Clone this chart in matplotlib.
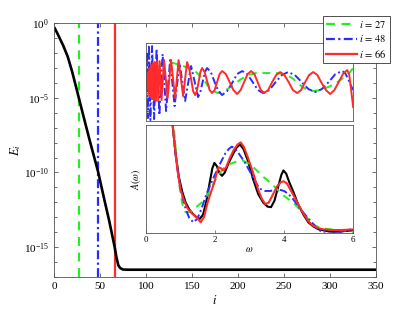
import matplotlib
matplotlib.use("Agg")
import matplotlib.pyplot as plt
import numpy as np

plt.rcParams['font.family'] = 'serif'
plt.rcParams['font.serif'] = ['Liberation Serif', 'DejaVu Serif']
plt.rcParams['mathtext.fontset'] = 'stix'

# ---------------- main curve ----------------
i_vals = [1, 5, 10, 15, 20, 27, 33, 39, 48, 55, 60, 66, 68, 70, 72, 75, 80,
          100, 150, 200, 250, 300, 350]
E_vals = [4.4e-1, 1.4e-1, 3.2e-2, 5.6e-3, 5.0e-4, 1.0e-5, 3.5e-7, 1.3e-8,
          1.1e-10, 1.3e-12, 6.0e-14, 1.0e-15, 2.0e-16, 6.0e-17, 4.0e-17,
          3.2e-17, 3.1e-17, 3.1e-17, 3.1e-17, 3.1e-17, 3.1e-17, 3.1e-17, 3.1e-17]
cut_i = [27, 48, 66]
labels = [r'$i\,=\,27$', r'$i\,=\,48$', r'$i\,=\,66$']
colors = ['#22ee22', '#2b2bff', '#ff2b2b']
styles = [(0, (4, 3)), (0, (4, 1.5, 1, 1.5)), '-']

# ---------------- inset 1 (signals) ----------------
t_red = [0, 0.7, 1.4, 2.1, 2.8, 3.5, 4.3, 5.1, 6.0, 6.9, 7.8, 8.8, 9.8, 11, 12.2,
         13.5, 15.5, 18, 21.5, 25, 29, 32.5, 37, 41, 43, 45, 47, 49, 50.75, 52.5,
         54.25, 56, 58.5, 61, 63.5, 66, 68.5, 71, 73.5, 76, 79.75, 83.5, 87.25, 91,
         94.5, 98, 101.5, 105, 108.25, 111.5, 114.75, 118, 122, 126, 130, 134,
         138.25, 142.5, 146.75, 151, 155, 159, 163, 167, 171.25, 175.5, 179.75,
         184, 188.25, 192.5, 196.75, 201, 203, 205, 207]
s_red = [0, 5, -7, 10, -12, 14, -15, 17, -17, 19, -18, 20, -19, 21, -19,
         21, -18, 22, -16, 22, -16, 22, -14, 20, 14, 3, -9, -13, -9, 0,
         10, 14, 10, 1, -8, -11, -8, 0, 8, 11, 8, 0, -8, -12,
         -8, 0, 8, 11, 8, 0, -8, -11, -8, 0, 7, 10,
         7, 0, -8, -11, -8, 0, 7, 10, 7, -1, -8,
         -12, -8, 0, 8, 12, 8, -8, -25]

t_blue = [0, 0.9, 1.8, 2.9, 4.3, 6.0, 8.0, 10.5, 13.3, 16.5, 20, 24, 28.5, 33.5,
          39, 45, 52, 54.25, 56.5, 58.75, 61, 64.75, 68.5, 72.25, 76, 81, 86, 91,
          96, 101.25, 106.5, 111.75, 117, 123.25, 129.5, 135.75, 142, 148.75,
          155.5, 162.25, 169, 175.75, 182.5, 189.25, 196, 199, 202, 205, 207]
s_blue = [0, 30, -36, 37, -38, 36, -37, 33, -33, 28, -29, 22, -24, 19,
          -19, 16, -15, -10, 0, 10, 14, 10, 0, -9, -13, -9, -1, 8,
          11, 8, 0, -8, -11, -8, 0, 7, 10, 7,
          0, -7, -10, -7, 0, 8, 11, 9, 3, -4, -8]

t_green = [0, 1, 2, 3.2, 4.5, 6, 8, 10.5, 14, 20, 27, 35, 42, 50, 57, 65, 72,
           80, 88, 95, 102, 110, 120, 130, 139, 146, 154, 161, 167, 174, 182,
           190, 197, 203, 207]
s_green = [0, -10, 12, -10, 14, -8, 16, -4, 18, 20, 19, 17, 14, 10, 3, -8, -11,
           -8, -2, 3, 7, 9, 9, 9, 8, 4, -3, -8, -9, -8, -5,
           -1, 4, 9, 14]

# ---------------- inset 2 (spectral functions) ----------------
w_black = [0.70, 0.77, 0.85, 0.95, 1.05, 1.15, 1.25, 1.35, 1.45, 1.55, 1.65, 1.75,
           1.85, 1.92, 1.98, 2.05, 2.12, 2.20, 2.28, 2.38, 2.50, 2.62, 2.72, 2.82,
           2.95, 3.10, 3.25, 3.40, 3.52, 3.62, 3.72, 3.82, 3.92, 3.98, 4.06, 4.15,
           4.27, 4.40, 4.56, 4.70, 4.85, 5.00, 5.14, 5.30, 5.45, 5.62, 5.80, 6.0]
A_black = [1.2, 1.0, 0.75, 0.52, 0.38, 0.28, 0.22, 0.18, 0.15, 0.13, 0.17, 0.30,
           0.48, 0.60, 0.65, 0.62, 0.56, 0.53, 0.56, 0.64, 0.72, 0.79, 0.82, 0.78,
           0.67, 0.50, 0.36, 0.28, 0.245, 0.24, 0.30, 0.42, 0.54, 0.58, 0.55, 0.47,
           0.38, 0.27, 0.17, 0.10, 0.06, 0.035, 0.025, 0.015, 0.012, 0.015, 0.02, 0.025]

w_red = [0.70, 0.77, 0.84, 0.91, 1.0, 1.1, 1.2, 1.3, 1.39, 1.48, 1.58, 1.68, 1.78,
         1.88, 1.97, 2.05, 2.10, 2.17, 2.24, 2.32, 2.42, 2.54, 2.65, 2.74, 2.83,
         2.95, 3.11, 3.25, 3.35, 3.45, 3.55, 3.68, 3.79, 3.90, 3.98, 4.08, 4.27,
         4.42, 4.56, 4.70, 4.85, 5.0, 5.14, 5.3, 5.45, 5.62, 5.8, 6.0]
A_red = [1.2, 1.0, 0.78, 0.58, 0.40, 0.30, 0.23, 0.19, 0.165, 0.14, 0.10, 0.15, 0.28,
         0.38, 0.46, 0.56, 0.61, 0.60, 0.58, 0.61, 0.69, 0.77, 0.82, 0.84, 0.80,
         0.70, 0.55, 0.40, 0.32, 0.27, 0.28, 0.36, 0.43, 0.47, 0.48, 0.46, 0.35,
         0.26, 0.18, 0.11, 0.065, 0.045, 0.034, 0.03, 0.028, 0.028, 0.03, 0.034]

w_blue = [0.70, 0.77, 0.85, 0.95, 1.05, 1.15, 1.25, 1.37, 1.48, 1.6, 1.76, 1.95,
          2.14, 2.30, 2.40, 2.48, 2.56, 2.68, 2.85, 3.01, 3.15, 3.3, 3.45, 3.6,
          3.75, 3.88, 4.0, 4.13, 4.27, 4.45, 4.66, 4.8, 4.95, 5.05, 5.14, 5.24,
          5.33, 5.45, 5.62, 5.8, 6.0]
A_blue = [1.2, 1.0, 0.74, 0.50, 0.34, 0.22, 0.14, 0.10, 0.13, 0.22, 0.37, 0.51,
          0.64, 0.74, 0.78, 0.80, 0.79, 0.74, 0.66, 0.57, 0.48, 0.41, 0.39, 0.39,
          0.40, 0.40, 0.39, 0.36, 0.31, 0.23, 0.15, 0.10, 0.044, 0.02, 0.0, -0.01,
          -0.005, 0.0, 0.01, 0.025, 0.04]

w_green = [0.72, 0.80, 0.88, 0.96, 1.05, 1.12, 1.2, 1.3, 1.45, 1.6, 1.75, 1.86,
           1.97, 2.1, 2.25, 2.43, 2.6, 2.82, 3.0, 3.21, 3.4, 3.59, 3.75, 3.93,
           4.1, 4.27, 4.45, 4.6, 4.77, 4.9, 5.06, 5.2, 5.4, 5.64, 5.8, 6.0]
A_green = [1.2, 1.0, 0.7, 0.45, 0.27, 0.2, 0.19, 0.2, 0.24, 0.28, 0.34, 0.40,
           0.47, 0.54, 0.60, 0.64, 0.66, 0.67, 0.64, 0.58, 0.52, 0.47, 0.42, 0.36,
           0.32, 0.28, 0.22, 0.17, 0.10, 0.07, 0.045, 0.04, 0.032, 0.025, 0.018, 0.01]

# ---------------- figure ----------------
fig = plt.figure(figsize=(4.15, 3.12), dpi=100)
ax = fig.add_axes([0.130, 0.112, 0.776, 0.814])
spine_c = '#555555'
handles = []
for c, col, ls, lab in zip(cut_i, colors, styles, labels):
    h = ax.axvline(c, color=col, ls=ls, lw=1.6, label=lab)
    handles.append(h)
ax.semilogy(i_vals, E_vals, color='k', lw=1.9)
ax.set_xlim(0, 350)
ax.set_ylim(1e-17, 1)
ax.set_xticks(np.arange(0, 351, 50))
ax.set_yticks([1e0, 1e-5, 1e-10, 1e-15])
ax.yaxis.set_minor_locator(matplotlib.ticker.LogLocator(base=10, subs=(1.0,), numticks=30))
ax.yaxis.set_minor_formatter(matplotlib.ticker.NullFormatter())
ax.tick_params(which='both', direction='in', top=True, right=True, labelsize=8,
               color=spine_c, length=3, width=0.6)
ax.tick_params(which='minor', length=2)
for sp in ax.spines.values():
    sp.set_color(spine_c)
    sp.set_linewidth(0.6)
ax.set_xlabel('$i$', fontsize=9, labelpad=2)
ax.set_ylabel('$E_i$', fontsize=9, labelpad=1)

# inset 1
ax1 = fig.add_axes([0.352, 0.612, 0.499, 0.250])
ax1.plot(t_green, s_green, color=colors[0], ls=styles[0], lw=1.4)
ax1.plot(t_blue, s_blue, color=colors[1], ls=styles[1], lw=1.4)
ax1.plot(t_red, s_red, color=colors[2], ls='-', lw=1.4)
ax1.set_xlim(0, 207)
ax1.set_ylim(-39, 39)
ax1.set_xticks([])
ax1.set_yticks([])
for sp in ax1.spines.values():
    sp.set_color(spine_c)
    sp.set_linewidth(0.6)

# inset 2
ax2 = fig.add_axes([0.352, 0.253, 0.499, 0.346])
ax2.plot(w_black, A_black, color='k', lw=1.5)
ax2.plot(w_green, A_green, color=colors[0], ls=styles[0], lw=1.4)
ax2.plot(w_blue, A_blue, color=colors[1], ls=styles[1], lw=1.4)
ax2.plot(w_red, A_red, color=colors[2], ls='-', lw=1.5)
ax2.set_xlim(0, 6)
ax2.set_ylim(0, 1)
ax2.set_xticks([0, 2, 4, 6])
ax2.set_yticks([])
ax2.tick_params(direction='in', labelsize=6.5, color=spine_c, length=2, width=0.5, pad=2)
for sp in ax2.spines.values():
    sp.set_color(spine_c)
    sp.set_linewidth(0.6)
ax2.set_xlabel(r'$\omega$', fontsize=7, labelpad=1)
ax2.set_ylabel(r'$A(\omega)$', fontsize=7, labelpad=2)

leg = fig.legend(handles=handles, loc='upper left', bbox_to_anchor=(0.778, 0.950),
                 fontsize=7.5, handlelength=3.0, handletextpad=0.2, borderpad=0.3,
                 labelspacing=0.35, borderaxespad=0, fancybox=False, framealpha=1)
leg.get_frame().set_edgecolor('#333333')
leg.get_frame().set_linewidth(0.6)

fig.savefig('out.png', dpi=100)
